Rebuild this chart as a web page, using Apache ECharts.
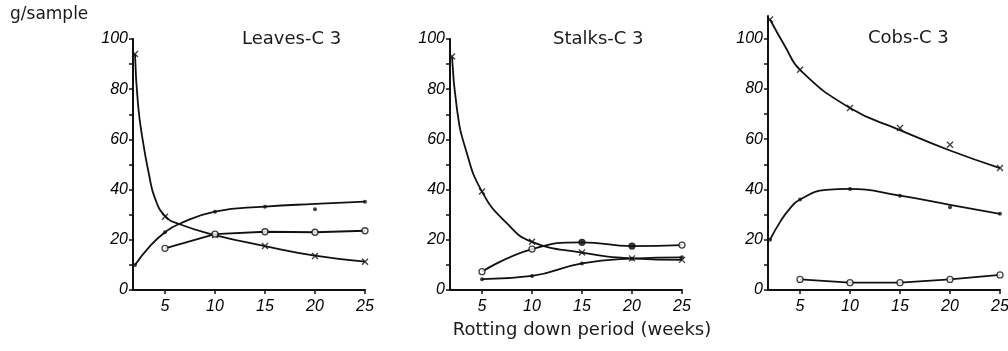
<!DOCTYPE html>
<html>
<head>
<meta charset="utf-8">
<script src="https://cdn.jsdelivr.net/npm/echarts@6/dist/echarts.min.js"></script>
<style>
  html, body { margin: 0; padding: 0; background: #fff; }
  #chart { width: 1008px; height: 351px; }
</style>
</head>
<body>
<div id="chart"></div>
<script>
// panel titles and tick labels
const panelTitles = ["Leaves-C 3", "Stalks-C 3", "Cobs-C 3"];
const xTicks = [5, 10, 15, 20, 25];
const yTicks = [0, 10, 20, 30, 40, 50, 60, 70, 80, 90, 100];
const yLabels = [0, 20, 40, 60, 80, 100];

// Leaves-C 3  ([week, g/sample])
const leavesCross = [[2, 94], [5, 29.2], [10, 21.9], [15, 17.5], [20, 13.5], [25, 11.3]];
const leavesCrossCurve = [[2, 94], [2.3, 74], [2.8, 59], [3.4, 46], [4, 36.5], [5, 29.5], [6.4, 26.3], [10, 21.9], [15, 17.5], [20, 13.7], [25, 11.3]];
const leavesDot = [[2, 10], [5, 23], [10, 31.2], [15, 33.2], [20, 32.2], [25, 35.2]];
const leavesDotCurve = [[2, 10], [3.5, 17.5], [5, 23], [6.4, 26.3], [10, 31.2], [15, 33.2], [20, 34.3], [25, 35.2]];
const leavesRing = [[5, 16.6], [10, 22.3], [15, 23.2], [20, 23], [25, 23.6]];

// Stalks-C 3
const stalksCross = [[2, 93], [5, 39.2], [10, 19.2], [15, 14.9], [20, 12.6], [25, 12]];
const stalksCrossCurve = [[2, 93], [2.5, 72], [3.3, 57], [5, 39.2], [7.5, 26.5], [10, 19.2], [15, 14.9], [20, 12.6], [25, 12]];
const stalksRing = [[5, 7.3], [10, 16.3], [15, 19], [20, 17.5], [25, 17.9]];
const stalksRingFilled = [false, false, true, true, false];
const stalksDot = [[5, 4.3], [10, 5.6], [15, 10.6], [20, 12.5], [25, 13]];

// Cobs-C 3
const cobsCross = [[2, 107.6], [5, 87.6], [10, 72.4], [15, 64.4], [20, 57.8], [25, 48.5]];
const cobsCrossCurve = [[2, 107.6], [3.5, 97], [5, 87.6], [10, 72.4], [15, 63.6], [20, 55.5], [25, 48.5]];
const cobsDot = [[2, 20], [5, 36], [10, 40.2], [15, 37.5], [20, 32.9], [25, 30.3]];
const cobsDotCurve = [[2, 20], [3, 27], [4, 32.5], [5, 36], [7.6, 39.8], [10, 40.2], [15, 37.5], [20, 33.9], [25, 30.3]];
const cobsRing = [[5, 4.2], [10, 2.9], [15, 2.9], [20, 4.2], [25, 6]];

const INK = "#111";
const CROSS = "path://M0,0L10,10M10,0L0,10";

const grids = [
  { left: 133, top: 39, width: 232, height: 251, max: 100 },
  { left: 450, top: 39, width: 232, height: 251, max: 100 },
  { left: 768, top: 16, width: 232, height: 274, max: 109 }
];

function curve(gi, data, smooth) {
  return {
    type: "line", xAxisIndex: gi, yAxisIndex: gi, data,
    smooth: smooth ? 0.5 : false,
    showSymbol: false, silent: true,
    lineStyle: { color: INK, width: 1.8 }
  };
}

function marks(gi, data, kind) {
  const style = {
    cross: { symbol: CROSS, symbolSize: 6, itemStyle: { color: "transparent", borderColor: INK, borderWidth: 1.4 } },
    dot: { symbol: "circle", symbolSize: 4, itemStyle: { color: INK } },
    ring: { symbol: "circle", symbolSize: 6, itemStyle: { color: "#fff", borderColor: INK, borderWidth: 1.3 } }
  }[kind];
  return { type: "scatter", xAxisIndex: gi, yAxisIndex: gi, data, silent: true, z: 3, ...style };
}

const stalksRingItems = stalksRing.map((p, i) =>
  stalksRingFilled[i] ? { value: p, itemStyle: { color: INK } } : { value: p });

const series = [
  curve(0, leavesCrossCurve, true), marks(0, leavesCross, "cross"),
  curve(0, leavesDotCurve, true), marks(0, leavesDot, "dot"),
  curve(0, leavesRing, false), marks(0, leavesRing, "ring"),

  curve(1, stalksCrossCurve, true), marks(1, stalksCross, "cross"),
  curve(1, stalksRing, true), marks(1, stalksRingItems, "ring"),
  curve(1, stalksDot, true), marks(1, stalksDot, "dot"),

  curve(2, cobsCrossCurve, true), marks(2, cobsCross, "cross"),
  curve(2, cobsDotCurve, true), marks(2, cobsDot, "dot"),
  curve(2, cobsRing, false), marks(2, cobsRing, "ring")
];

const tickFont = { fontFamily: "Liberation Sans", fontStyle: "italic", fontSize: 16, color: "#000" };
const textFont = { fontFamily: "DejaVu Sans", fontSize: 18, fontWeight: "normal", color: "#1a1a1a" };

const chart = echarts.init(document.getElementById("chart"), null, { renderer: "canvas" });
chart.setOption({
  animation: false,
  backgroundColor: "#fff",
  title: [
    { text: "g/sample", left: 10, top: 6, padding: 0, textStyle: { ...textFont, fontSize: 17 } },
    { text: panelTitles[0], left: 242, top: 30, padding: 0, textStyle: textFont },
    { text: panelTitles[1], left: 553, top: 30, padding: 0, textStyle: textFont },
    { text: panelTitles[2], left: 868, top: 29, padding: 0, textStyle: textFont },
    { text: "Rotting down period (weeks)", left: 582, textAlign: "center", top: 321, padding: 0, textStyle: textFont }
  ],
  grid: grids.map((g) => ({ left: g.left, top: g.top, width: g.width, height: g.height, outerBoundsMode: "none" })),
  xAxis: grids.map((g, i) => ({
    type: "value", gridIndex: i, min: 1.8, max: 25,
    axisLine: { onZero: false, lineStyle: { color: INK, width: 2 } },
    axisTick: { customValues: xTicks, length: 4, lineStyle: { color: INK, width: 1.5 } },
    axisLabel: { customValues: xTicks, margin: 9, ...tickFont },
    splitLine: { show: false }
  })),
  yAxis: grids.map((g, i) => ({
    type: "value", gridIndex: i, min: 0, max: g.max,
    axisLine: { show: true, onZero: false, lineStyle: { color: INK, width: 2 } },
    axisTick: { show: true, customValues: yTicks, length: 4, lineStyle: { color: INK, width: 1.5 } },
    axisLabel: { customValues: yLabels, margin: 5, ...tickFont },
    splitLine: { show: false }
  })),
  series
});
</script>
</body>
</html>
